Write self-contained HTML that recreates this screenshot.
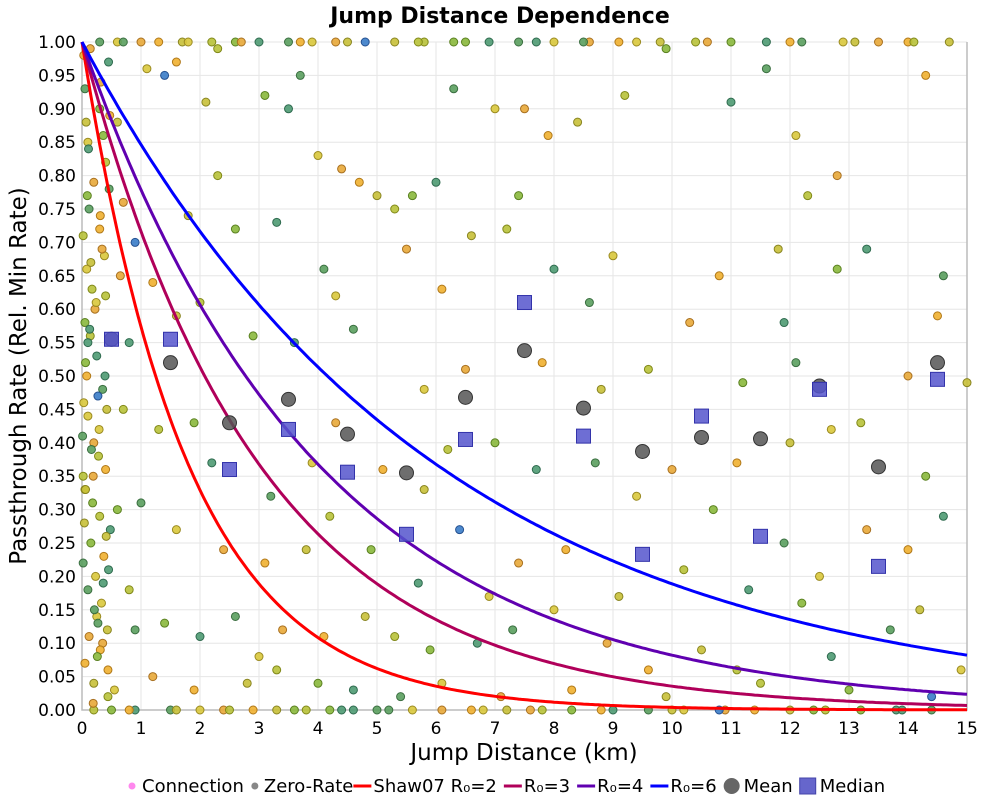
<!DOCTYPE html>
<html><head><meta charset="utf-8">
<style>
body{margin:0;background:#fff;font-family:"Liberation Sans","DejaVu Sans",sans-serif;}
svg text{font-family:"DejaVu Sans","Liberation Sans",sans-serif;}
</style></head>
<body>
<svg id="chart" width="1000" height="800" xmlns="http://www.w3.org/2000/svg">
<text x="500" y="23" text-anchor="middle" font-size="22" font-weight="bold">Jump Distance Dependence</text>
<text x="524" y="760" text-anchor="middle" font-size="23">Jump Distance (km)</text>
<text transform="translate(26,376) rotate(-90)" text-anchor="middle" font-size="23">Passthrough Rate (Rel. Min Rate)</text>
<g id="grid"></g>
<g id="ticks"></g>
<g id="plot"></g>
<g id="legend"></g>
</svg>
<script>
const xTicks=[0,1,2,3,4,5,6,7,8,9,10,11,12,13,14,15];
const yTicks=[0,0.05,0.1,0.15,0.2,0.25,0.3,0.35,0.4,0.45,0.5,0.55,0.6,0.65,0.7,0.75,0.8,0.85,0.9,0.95,1.0];
const binX=[0.5,1.5,2.5,3.5,4.5,5.5,6.5,7.5,8.5,9.5,10.5,11.5,12.5,13.5,14.5];
const meanY=[0.555,0.52,0.43,0.465,0.413,0.355,0.468,0.538,0.452,0.387,0.408,0.406,0.485,0.364,0.52];
const medianY=[0.555,0.555,0.36,0.42,0.356,0.263,0.405,0.61,0.41,0.233,0.44,0.26,0.48,0.215,0.495];
const curveNames=["Shaw07 R₀=2","R₀=3","R₀=4","R₀=6"];
const curveScale=[1.8,3,4,6];
const scatterX=[0.3,0.6,1.0,1.3,1.7,2.2,2.6,3.0,3.5,3.9,4.3,4.8,5.3,5.8,6.3,6.9,7.4,8.0,8.6,9.1,9.8,10.4,11.0,11.6,12.2,12.9,13.5,14.0,14.7,
0.2,0.5,0.9,1.5,2.0,2.4,2.9,3.3,3.8,4.2,4.6,5.0,5.6,6.1,6.6,7.2,7.8,8.3,9.0,9.6,10.2,10.9,11.4,12.0,12.6,13.2,13.8,14.4,
1.1,1.4,1.6,2.1,2.3,3.1,3.5,3.7,4.0,4.4,4.7,5.0,5.3,5.6,6.0,6.3,7.0,7.5,7.9,8.4,9.2,9.9,11.0,11.6,12.1,12.8,14.3,1.8,2.3,2.6,3.3,4.1,4.3,5.5,6.1,6.6,7.2,7.4,8.0,8.6,9.0,10.3,10.8,11.8,12.3,12.8,13.3,14.6,0.9,0.7,1.2,1.6,2.0,2.9,3.6,4.6,5.8,6.5,7.8,8.8,9.6,11.2,11.9,12.1,12.7,14.0,14.5,15.0,1.3,1.9,2.2,3.2,3.9,4.3,5.1,5.8,6.2,7.0,7.7,8.7,9.4,10.0,11.1,12.0,13.2,14.3,14.6,1.0,1.6,2.4,3.1,3.8,4.2,4.9,5.7,6.4,6.9,7.4,8.2,9.1,10.2,10.7,11.3,11.9,12.5,13.3,14.0,14.2,0.8,1.4,2.0,2.6,3.0,3.4,4.1,4.8,5.3,5.9,6.7,7.3,8.0,8.9,9.6,10.5,11.1,12.2,12.7,13.7,14.9,1.2,1.9,2.8,3.3,4.0,4.6,5.4,6.1,7.1,8.3,9.9,11.5,13.0,14.4,
0.05,0.1,0.2,0.3,0.15,0.4,0.05,0.25,0.35,0.1,0.2,0.4,0.05,0.3,0.15,0.45,0.1,0.25,0.35,0.05,0.2,0.4,0.3,0.45,0.12,0.38,0.22,0.08,0.42,0.28,0.18,0.48,0.02,0.33,0.12,0.44,0.6,0.7,0.6,0.8,0.9,0.55,0.65,0.03,0.07,0.14,0.27,0.36,0.46,0.08,0.19,0.31,0.41,
0.02,0.06,0.11,0.16,0.24,0.32,0.37,0.43,0.02,0.09,0.13,0.21,0.29,0.34,0.47,0.04,0.17,0.26,0.39,0.01,0.23,0.14,0.31,0.06,0.44,0.36,0.1,0.27,0.03,0.19,
0.8,1.6,2.5,3.6,4.4,5.2,6.8,7.6,8.8,10.0,10.8,12.4,13.9,0.7,1.8,2.7,3.7,4.5,5.7,6.5,7.7,8.5,9.4,10.6,12.0,13.1,14.1];
const scatterY=[1,1,1,1,1,1,1,1,1,1,1,1,1,1,1,1,1,1,1,1,1,1,1,1,1,1,1,1,1,
0,0,0,0,0,0,0,0,0,0,0,0,0,0,0,0,0,0,0,0,0,0,0,0,0,0,0,0,
0.96,0.95,0.97,0.91,0.99,0.92,0.90,0.95,0.83,0.81,0.79,0.77,0.75,0.77,0.79,0.93,0.90,0.90,0.86,0.88,0.92,0.99,0.91,0.96,0.86,0.80,0.95,0.74,0.80,0.72,0.73,0.66,0.62,0.69,0.63,0.71,0.72,0.77,0.66,0.61,0.68,0.58,0.65,0.69,0.77,0.66,0.69,0.65,0.70,0.76,0.64,0.59,0.61,0.56,0.55,0.57,0.48,0.51,0.52,0.48,0.51,0.49,0.58,0.52,0.42,0.50,0.59,0.49,0.42,0.43,0.37,0.32,0.37,0.43,0.36,0.33,0.39,0.40,0.36,0.37,0.32,0.36,0.37,0.40,0.43,0.35,0.29,0.31,0.27,0.24,0.22,0.24,0.29,0.24,0.19,0.27,0.17,0.22,0.24,0.17,0.21,0.30,0.18,0.25,0.20,0.27,0.24,0.15,0.18,0.13,0.11,0.14,0.08,0.12,0.11,0.14,0.11,0.09,0.10,0.12,0.15,0.10,0.06,0.09,0.06,0.16,0.08,0.12,0.06,0.05,0.03,0.04,0.06,0.04,0.03,0.02,0.04,0.02,0.03,0.02,0.04,0.03,0.02,
0.93,0.85,0.79,0.72,0.67,0.62,0.58,0.53,0.48,0.44,0.40,0.36,0.33,0.29,0.25,0.21,0.18,0.14,0.10,0.07,0.04,0.82,0.90,0.97,0.75,0.68,0.60,0.50,0.45,0.38,0.31,0.27,0.22,0.16,0.11,0.06,0.88,0.45,0.30,0.55,0.12,0.03,0.65,0.98,0.88,0.56,0.47,0.19,0.78,0.66,0.35,0.09,0.26,
0.71,0.52,0.84,0.39,0.61,0.94,0.23,0.12,0.35,0.77,0.57,0.15,0.42,0.69,0.89,0.28,0.63,0.08,0.5,0.41,0.2,0.99,0.74,0.33,0.02,0.86,0.55,0.13,0.46,0.01,
0,0,0,0,0,0,0,0,0,0,0,0,0,1,1,1,1,1,1,1,1,1,1,1,1,1,1];
const NS='http://www.w3.org/2000/svg';
const X0=82,X1=967,Y0=710,Y1=42;
const sx=v=>X0+(v-xTicks[0])/(xTicks[xTicks.length-1]-xTicks[0])*(X1-X0);
const sy=v=>Y0-(v-yTicks[0])/(yTicks[yTicks.length-1]-yTicks[0])*(Y0-Y1);
function mk(parent,tag,attrs){const e=document.createElementNS(NS,tag);for(const k in attrs)e.setAttribute(k,attrs[k]);parent.appendChild(e);return e;}
const grid=document.getElementById('grid'),ticks=document.getElementById('ticks'),plot=document.getElementById('plot'),legend=document.getElementById('legend');
xTicks.forEach(t=>{
  const l=mk(grid,'line',{x1:sx(t),x2:sx(t),y1:Y1,y2:Y0,stroke:'#e6e6e6','stroke-width':1});
  
  
  const tx=mk(ticks,'text',{x:sx(t),y:Y0+24,'text-anchor':'middle','font-size':17});
  tx.textContent=t;
  
  
});
yTicks.forEach(t=>{
  const l=mk(grid,'line',{x1:X0,x2:X1,y1:sy(t),y2:sy(t),stroke:'#e6e6e6','stroke-width':1});
  
  
  const tx=mk(ticks,'text',{x:X0-6,y:sy(t)+6,'text-anchor':'end','font-size':17});
  tx.textContent=t.toFixed(2);
  
  
});
const ax=mk(grid,'path',{d:`M${X0},${Y1}V${Y0}H${X1}V${Y1}`,fill:'none',stroke:'#bbb','stroke-width':1.5});


const fills=['#d9c83c','#8ab83c','#f0b030','#5a9e5e','#b8c23a','#e8a838','#4e9a72','#c8c038'];
const strokes=['#9a8a20','#5a8020','#b07818','#3a6e40','#808818','#a87020','#2e6a4e','#888420'];
scatterX.forEach((x,i)=>{
  const k=(i*5+3)%fills.length;
  let f=fills[k],s=strokes[k];
  if(i%47===11){f='#3a7cc8';s='#245090';}
  const c=mk(plot,'circle',{cx:sx(x),cy:sy(scatterY[i]),r:4,fill:f,stroke:s,'stroke-width':1,'fill-opacity':0.9});
  
  
});
const curveColors=['#ff0000','#b0005a','#6000b0','#0000ff'];
curveScale.forEach((L,j)=>{
  let d='';
  for(let i=0;i<=300;i++){const x=15*i/300;d+=(i?'L':'M')+sx(x).toFixed(1)+','+sy(Math.exp(-x/L)).toFixed(1);}
  const p=mk(plot,'path',{d:d,fill:'none',stroke:curveColors[j],'stroke-width':3});
  
  
});
binX.forEach((x,i)=>{
  const c=mk(plot,'circle',{cx:sx(x),cy:sy(meanY[i]),r:7,fill:'#555','fill-opacity':0.85,stroke:'#333','stroke-width':1});
  
  
  const r=mk(plot,'rect',{x:sx(x)-7,y:sy(medianY[i])-7,width:14,height:14,fill:'#5555cc','fill-opacity':0.85,stroke:'#3333aa','stroke-width':1});
  
  
});
let lx=128;const ly=786;
function ltext(str){const t=mk(legend,'text',{x:lx,y:ly+6,'font-size':18});t.textContent=str;lx+=t.getComputedTextLength()+7;}
let e=mk(legend,'circle',{cx:lx+4,cy:ly,r:3.5,fill:'#ff88ee'});lx+=14;ltext('Connection');
e=mk(legend,'circle',{cx:lx+4,cy:ly,r:3.5,fill:'#888'});lx+=13;ltext('Zero-Rate');lx-=7;
curveNames.forEach((n,j)=>{
  const l=mk(legend,'line',{x1:lx,x2:lx+18,y1:ly,y2:ly,stroke:curveColors[j],'stroke-width':3});
  
  
  lx+=20;ltext(n);
});
e=mk(legend,'circle',{cx:lx+8,cy:ly,r:8,fill:'#666'});lx+=20;ltext('Mean');
e=mk(legend,'rect',{x:lx,y:ly-8,width:16,height:16,fill:'#6666cc',stroke:'#4444aa'});lx+=20;ltext('Median');
</script>
</body></html>
